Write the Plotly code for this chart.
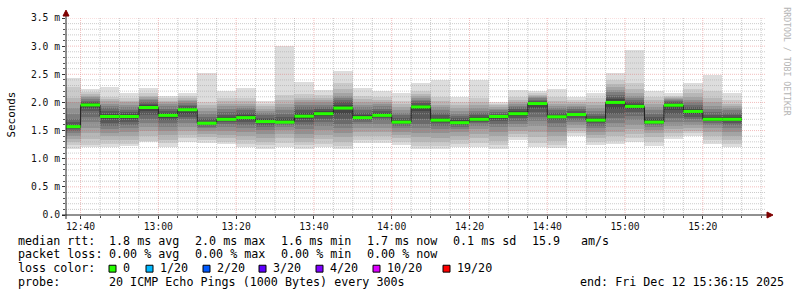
import plotly.graph_objects as go
from datetime import datetime, timedelta

# ---------------- data ----------------
day = "2025-12-12"
bar_end_times = ["12:40", "12:45", "12:50", "12:55", "13:00", "13:05", "13:10", "13:15", "13:20",
                 "13:25", "13:30", "13:35", "13:40", "13:45", "13:50", "13:55", "14:00", "14:05",
                 "14:10", "14:15", "14:20", "14:25", "14:30", "14:35", "14:40", "14:45", "14:50",
                 "14:55", "15:00", "15:05", "15:10", "15:15", "15:20", "15:25", "15:30"]

median_ms = [1.57, 1.955, 1.75, 1.75, 1.91, 1.77, 1.87, 1.63, 1.70, 1.73, 1.66, 1.65, 1.755,
             1.80, 1.90, 1.73, 1.77, 1.65, 1.92, 1.685, 1.64, 1.70, 1.75, 1.80, 1.98, 1.745,
             1.785, 1.685, 2.00, 1.93, 1.65, 1.95, 1.84, 1.70, 1.70]

# 20 sorted ping round-trip times (ms) per 5-minute step
pings_sorted = [
    [1.17, 1.24, 1.30, 1.35, 1.40, 1.45, 1.50, 1.53, 1.55, 1.56, 1.58, 1.60, 1.65, 1.70, 1.80, 1.90, 2.00, 2.08, 2.28, 2.43],
    [1.21, 1.25, 1.35, 1.45, 1.55, 1.65, 1.75, 1.85, 1.90, 1.94, 1.97, 1.99, 2.01, 2.03, 2.06, 2.09, 2.12, 2.15, 2.18, 2.23],
    [1.20, 1.26, 1.34, 1.40, 1.46, 1.52, 1.58, 1.64, 1.70, 1.74, 1.76, 1.80, 1.85, 1.90, 1.94, 1.98, 2.02, 2.06, 2.10, 2.28],
    [1.22, 1.27, 1.33, 1.40, 1.47, 1.54, 1.60, 1.66, 1.71, 1.74, 1.76, 1.79, 1.83, 1.87, 1.92, 1.96, 2.00, 2.03, 2.08, 2.16],
    [1.29, 1.32, 1.40, 1.49, 1.56, 1.63, 1.70, 1.77, 1.84, 1.89, 1.92, 1.95, 1.98, 2.01, 2.04, 2.06, 2.09, 2.12, 2.17, 2.26],
    [1.20, 1.28, 1.34, 1.42, 1.50, 1.57, 1.63, 1.68, 1.73, 1.76, 1.78, 1.81, 1.85, 1.89, 1.93, 1.97, 2.00, 2.03, 2.07, 2.12],
    [1.30, 1.36, 1.42, 1.50, 1.57, 1.64, 1.70, 1.75, 1.80, 1.86, 1.88, 1.90, 1.93, 1.96, 1.99, 2.02, 2.05, 2.08, 2.11, 2.16],
    [1.28, 1.34, 1.38, 1.44, 1.50, 1.54, 1.57, 1.60, 1.62, 1.63, 1.64, 1.66, 1.70, 1.75, 1.80, 1.85, 1.90, 1.95, 2.00, 2.52],
    [1.26, 1.30, 1.36, 1.43, 1.50, 1.56, 1.61, 1.65, 1.68, 1.70, 1.71, 1.74, 1.78, 1.83, 1.88, 1.93, 1.98, 2.03, 2.08, 2.20],
    [1.21, 1.26, 1.33, 1.40, 1.48, 1.55, 1.60, 1.65, 1.69, 1.72, 1.75, 1.78, 1.82, 1.86, 1.90, 1.94, 1.98, 2.02, 2.08, 2.26],
    [1.18, 1.24, 1.30, 1.37, 1.44, 1.51, 1.56, 1.60, 1.63, 1.65, 1.67, 1.70, 1.73, 1.77, 1.81, 1.85, 1.89, 1.93, 1.97, 2.02],
    [1.20, 1.28, 1.36, 1.44, 1.51, 1.56, 1.60, 1.63, 1.64, 1.64, 1.66, 1.70, 1.75, 1.80, 1.86, 1.92, 1.98, 2.04, 2.13, 3.01],
    [1.17, 1.24, 1.30, 1.37, 1.44, 1.52, 1.60, 1.66, 1.71, 1.74, 1.77, 1.81, 1.86, 1.91, 1.96, 2.00, 2.04, 2.08, 2.15, 2.37],
    [1.21, 1.27, 1.35, 1.43, 1.51, 1.58, 1.65, 1.71, 1.76, 1.79, 1.81, 1.85, 1.88, 1.92, 1.96, 2.00, 2.04, 2.08, 2.13, 2.22],
    [1.17, 1.22, 1.30, 1.38, 1.46, 1.54, 1.62, 1.70, 1.80, 1.88, 1.92, 1.96, 2.00, 2.04, 2.08, 2.12, 2.17, 2.24, 2.34, 2.55],
    [1.28, 1.34, 1.41, 1.48, 1.55, 1.61, 1.66, 1.69, 1.71, 1.72, 1.74, 1.77, 1.81, 1.86, 1.91, 1.96, 2.01, 2.06, 2.12, 2.26],
    [1.28, 1.34, 1.41, 1.48, 1.55, 1.62, 1.68, 1.72, 1.75, 1.76, 1.78, 1.81, 1.85, 1.89, 1.93, 1.97, 2.01, 2.05, 2.10, 2.20],
    [1.24, 1.30, 1.36, 1.42, 1.48, 1.54, 1.58, 1.61, 1.63, 1.64, 1.66, 1.68, 1.72, 1.77, 1.82, 1.87, 1.92, 1.97, 2.03, 2.16],
    [1.17, 1.23, 1.30, 1.38, 1.46, 1.54, 1.62, 1.70, 1.84, 1.90, 1.93, 1.96, 1.99, 2.02, 2.05, 2.08, 2.11, 2.15, 2.20, 2.35],
    [1.17, 1.23, 1.30, 1.37, 1.45, 1.52, 1.58, 1.63, 1.66, 1.68, 1.69, 1.73, 1.77, 1.81, 1.86, 1.91, 1.96, 2.02, 2.10, 2.39],
    [1.20, 1.26, 1.33, 1.40, 1.47, 1.53, 1.57, 1.60, 1.62, 1.63, 1.65, 1.68, 1.72, 1.76, 1.80, 1.85, 1.90, 1.95, 2.00, 2.10],
    [1.21, 1.28, 1.36, 1.44, 1.52, 1.59, 1.64, 1.66, 1.67, 1.69, 1.71, 1.74, 1.77, 1.81, 1.85, 1.90, 1.95, 2.00, 2.08, 2.39],
    [1.18, 1.25, 1.32, 1.40, 1.48, 1.56, 1.62, 1.67, 1.71, 1.74, 1.75, 1.77, 1.80, 1.83, 1.86, 1.89, 1.92, 1.95, 1.98, 2.01],
    [1.33, 1.38, 1.44, 1.50, 1.56, 1.62, 1.67, 1.72, 1.76, 1.79, 1.82, 1.85, 1.88, 1.91, 1.94, 1.97, 2.00, 2.04, 2.10, 2.22],
    [1.20, 1.28, 1.38, 1.48, 1.58, 1.67, 1.75, 1.83, 1.90, 1.96, 1.99, 2.01, 2.03, 2.05, 2.07, 2.09, 2.11, 2.13, 2.16, 2.20],
    [1.19, 1.25, 1.32, 1.40, 1.48, 1.56, 1.63, 1.68, 1.72, 1.74, 1.75, 1.78, 1.82, 1.86, 1.90, 1.94, 1.98, 2.03, 2.10, 2.24],
    [1.40, 1.45, 1.50, 1.55, 1.60, 1.65, 1.69, 1.73, 1.76, 1.78, 1.79, 1.82, 1.85, 1.88, 1.91, 1.94, 1.97, 2.00, 2.04, 2.10],
    [1.24, 1.30, 1.36, 1.42, 1.48, 1.54, 1.59, 1.63, 1.66, 1.68, 1.69, 1.72, 1.76, 1.80, 1.85, 1.90, 1.95, 2.00, 2.07, 2.17],
    [1.26, 1.32, 1.40, 1.48, 1.56, 1.64, 1.72, 1.80, 1.88, 1.98, 2.02, 2.06, 2.10, 2.14, 2.18, 2.22, 2.27, 2.33, 2.40, 2.53],
    [1.30, 1.36, 1.44, 1.52, 1.60, 1.68, 1.76, 1.83, 1.88, 1.92, 1.94, 1.97, 2.00, 2.04, 2.08, 2.12, 2.17, 2.24, 2.35, 2.94],
    [1.23, 1.30, 1.38, 1.45, 1.51, 1.56, 1.60, 1.62, 1.63, 1.64, 1.66, 1.70, 1.75, 1.80, 1.86, 1.92, 1.98, 2.04, 2.10, 2.20],
    [1.35, 1.40, 1.46, 1.52, 1.58, 1.65, 1.72, 1.80, 1.87, 1.93, 1.96, 1.98, 2.00, 2.02, 2.04, 2.06, 2.08, 2.10, 2.12, 2.16],
    [1.40, 1.45, 1.50, 1.55, 1.60, 1.65, 1.70, 1.75, 1.80, 1.83, 1.85, 1.88, 1.92, 1.96, 2.00, 2.05, 2.10, 2.16, 2.24, 2.35],
    [1.27, 1.33, 1.40, 1.47, 1.54, 1.60, 1.64, 1.67, 1.68, 1.68, 1.70, 1.74, 1.78, 1.83, 1.88, 1.94, 2.00, 2.08, 2.20, 2.49],
    [1.20, 1.27, 1.34, 1.41, 1.48, 1.55, 1.60, 1.64, 1.67, 1.69, 1.71, 1.74, 1.78, 1.82, 1.86, 1.90, 1.94, 1.98, 2.04, 2.16],
]

y_tick_vals = [0.0, 0.5, 1.0, 1.5, 2.0, 2.5, 3.0, 3.5]
y_tick_text = ["0.0", "0.5 m", "1.0 m", "1.5 m", "2.0 m", "2.5 m", "3.0 m", "3.5 m"]

loss_labels = ["0", "1/20", "2/20", "3/20", "4/20", "10/20", "19/20"]
loss_colors = ["#26ff00", "#00b8ff", "#0059ff", "#5e00ff", "#7e00ff", "#dd00ff", "#ff0000"]

stats_rtt = ["1.8 ms avg", "2.0 ms max", "1.6 ms min", "1.7 ms now", "0.1 ms sd", "15.9", "am/s"]
stats_loss = ["0.00 % avg", "0.00 % max", "0.00 % min", "0.00 % now"]
probe_text = "20 ICMP Echo Pings (1000 Bytes) every 300s"
end_text = "end: Fri Dec 12 15:36:15 2025"

# ---------------- geometry helpers ----------------
W, H = 797, 297
L, R, T, B = 66, 766, 15, 215
def px(x):
    return (x - L) / (R - L)
def py(y):
    return (B - y) / (B - T)

step = timedelta(minutes=5)
ends = [datetime.fromisoformat(f"{day} {t}") for t in bar_end_times]
starts = [e - step for e in ends]
centers = [e - step / 2 for e in ends]
x_start = datetime.fromisoformat(f"{day} 12:36:15")
x_end = datetime.fromisoformat(f"{day} 15:36:15")

fig = go.Figure()

# smoke bands (smokeping style nested shades)
n = 20
half = n // 2
for k in range(1, half + 1):
    c = int(190 / half * (half - k)) + 50
    col = f"rgb({c},{c},{c})"
    base = [p[k - 1] for p in pings_sorted]
    top = [p[n - k] for p in pings_sorted]
    fig.add_trace(go.Bar(
        x=centers, y=[t - b for t, b in zip(top, base)], base=base,
        width=[300000] * len(centers), marker=dict(color=col, line=dict(width=0)),
        hoverinfo="skip", showlegend=False))

# grid (drawn over the smoke like rrdtool)
minor_col = "rgba(170,170,170,0.6)"
major_col = "rgba(225,100,100,0.42)"
gx_minor, gy_minor, gx_major, gy_major = [], [], [], []
t = datetime.fromisoformat(f"{day} 12:40")
while t < x_end:
    if t.minute % 20 == 0:
        gx_major += [t, t, None]; gy_major += [0, 3.5, None]
    else:
        gx_minor += [t, t, None]; gy_minor += [0, 3.5, None]
    t += step
for i in range(1, 36):
    v = i / 10
    if i % 5 == 0:
        gx_major += [x_start, x_end, None]; gy_major += [v, v, None]
    else:
        gx_minor += [x_start, x_end, None]; gy_minor += [v, v, None]
fig.add_trace(go.Scatter(x=gx_minor, y=gy_minor, mode="lines",
                         line=dict(color=minor_col, width=1, dash="1px,1px"),
                         hoverinfo="skip", showlegend=False))
fig.add_trace(go.Scatter(x=gx_major, y=gy_major, mode="lines",
                         line=dict(color=major_col, width=1, dash="1px,1px"),
                         hoverinfo="skip", showlegend=False))

# dark median step line
fig.add_trace(go.Scatter(x=starts + [ends[-1]], y=median_ms + [median_ms[-1]], mode="lines",
                         line=dict(color="#202020", width=1, shape="hv"),
                         hoverinfo="skip", showlegend=False))
# green median segments (0 loss)
gx, gy = [], []
for s, e, m in zip(starts, ends, median_ms):
    gx += [s, e, None]; gy += [m, m, None]
fig.add_trace(go.Scatter(x=gx, y=gy, mode="lines",
                         line=dict(color=loss_colors[0], width=3),
                         hoverinfo="skip", showlegend=False))

tick_font = dict(family="DejaVu Sans Mono", size=9.7, color="#111")
fig.update_layout(
    width=W, height=H,
    margin=dict(l=L, r=W - R, t=T, b=H - B, pad=0),
    paper_bgcolor="white", plot_bgcolor="white",
    barmode="overlay", bargap=0,
    showlegend=False,
    xaxis=dict(type="date", range=[x_start, x_end], showgrid=False, zeroline=False,
               showline=False, tickformat="%H:%M", dtick=20 * 60 * 1000,
               tick0=f"{day} 12:40", ticks="outside", ticklen=3, tickcolor="#333",
               tickfont=tick_font, ticklabelstandoff=-1,
               minor=dict(dtick=5 * 60 * 1000, ticklen=2, tickcolor="#555", ticks="outside", showgrid=False)),
    yaxis=dict(range=[0, 3.5], showgrid=False, zeroline=False, showline=False,
               tickvals=y_tick_vals, ticktext=y_tick_text, ticks="outside", ticklen=3,
               tickcolor="#333", tickfont=tick_font, ticklabelstandoff=0,
               minor=dict(dtick=0.1, ticklen=2, tickcolor="#555", ticks="outside", showgrid=False)),
)

shapes = []
# axes lines and arrows
shapes.append(dict(type="line", xref="paper", yref="paper", x0=px(62), x1=px(769), y0=0, y1=0,
                   line=dict(color="#222", width=1)))
shapes.append(dict(type="line", xref="paper", yref="paper", x0=0, x1=0, y0=py(219), y1=py(11),
                   line=dict(color="#222", width=1)))
shapes.append(dict(type="path", xref="paper", yref="paper",
                   path=f"M {px(767)},{py(212)} L {px(773)},{py(215)} L {px(767)},{py(218)} Z",
                   fillcolor="#7f0000", line=dict(color="#7f0000", width=1)))
shapes.append(dict(type="path", xref="paper", yref="paper",
                   path=f"M {px(63)},{py(13)} L {px(66)},{py(7)} L {px(69)},{py(13)} Z",
                   fillcolor="#7f0000", line=dict(color="#7f0000", width=1)))

annotations = []
lf = dict(family="DejaVu Sans Mono", size=11.7, color="#000")
def txt(x, y, s, **kw):
    annotations.append(dict(xref="paper", yref="paper", x=px(x), y=py(y), text=s,
                            showarrow=False, xanchor="left", yanchor="middle", font=lf, **kw))

row1, row2, row3, row4 = 241, 255, 269, 283
txt(16, row1, "median rtt:")
for xpos, s in zip([107, 193, 279, 365, 451, 530, 579], stats_rtt):
    txt(xpos, row1, s)
txt(16, row2, "packet loss:")
for xpos, s in zip([107, 193, 279, 365], stats_loss):
    txt(xpos, row2, s)
txt(16, row3, "loss color:")
box_x = [109, 146, 203, 259, 316, 373, 443]
for bx, lab, col in zip(box_x, loss_labels, loss_colors):
    shapes.append(dict(type="rect", xref="paper", yref="paper", x0=px(bx), x1=px(bx + 7),
                       y0=py(273), y1=py(266), fillcolor=col, line=dict(color="#000", width=1)))
    txt(bx + 12, row3, lab)
txt(16, row4, "probe:")
txt(107, row4, probe_text)
txt(578, row4, end_text)

annotations.append(dict(xref="paper", yref="paper", x=px(12), y=py(113), text="Seconds",
                        showarrow=False, textangle=-90, xanchor="center", yanchor="middle",
                        font=dict(family="DejaVu Sans Mono", size=10.9, color="#000")))
annotations.append(dict(xref="paper", yref="paper", x=px(787), y=py(59),
                        text="RRDTOOL / TOBI OETIKER", showarrow=False, textangle=90,
                        xanchor="center", yanchor="middle",
                        font=dict(family="DejaVu Sans Mono", size=8.2, color="#b4b4b4")))

fig.update_layout(shapes=shapes, annotations=annotations)
fig.write_html("out.html")
